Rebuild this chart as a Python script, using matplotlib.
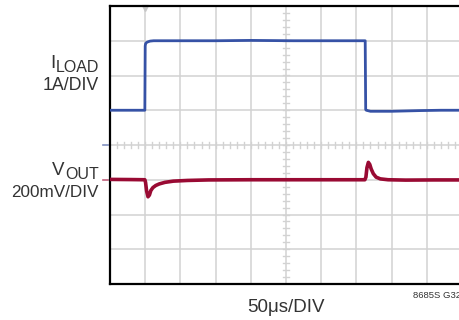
import numpy as np
import matplotlib
matplotlib.use("Agg")
import matplotlib.pyplot as plt
import matplotlib.transforms as mtransforms

plt.rcParams["font.family"] = ["Liberation Sans Narrow", "Liberation Sans", "DejaVu Sans"]

# ── scope settings ─────────────────────────────
US_PER_DIV = 50.0      # time base
A_PER_DIV = 1.0        # I_LOAD scale
MV_PER_DIV = 200.0     # V_OUT scale
ILOAD_ZERO_DIV = 4.0   # ground marker of channel 1
VOUT_ZERO_DIV = 3.0    # ground marker of channel 2 (AC coupled)

# ── I_LOAD trace (time in µs, current in A) ────
iload_t = [0, 49.5, 50.0, 50.6, 52, 54, 57, 62, 90, 150, 200, 260, 300,
           362.5, 363.2, 364, 366, 370, 380, 400, 420, 440, 470, 500]
iload_a = [1.00, 1.00, 2.85, 2.92, 2.95, 2.97, 2.99, 3.00, 3.00, 3.00, 3.01, 3.00, 3.00,
           3.00, 1.02, 1.00, 0.99, 0.97, 0.97, 0.97, 0.98, 0.99, 1.00, 1.00]

# ── V_OUT trace (time in µs, deviation in mV) ──
vout_t = [0, 30, 49.5, 50.5, 52, 54, 56, 58, 61, 65, 70, 78, 90, 110, 140, 200,
          300, 362, 363.5, 365, 367, 369, 371, 374, 378, 384, 395, 420, 460, 500]
vout_mv = [2, 1, 0, -15, -65, -98, -88, -62, -45, -33, -24, -15, -8, -4, -1, 0,
           0, 0, 15, 70, 100, 88, 62, 35, 15, 5, 0, -2, -1, -1]

# convert to screen divisions
x_il = np.array(iload_t) / US_PER_DIV
y_il = ILOAD_ZERO_DIV + np.array(iload_a) / A_PER_DIV
x_vo = np.array(vout_t) / US_PER_DIV
y_vo = VOUT_ZERO_DIV + np.array(vout_mv) / MV_PER_DIV

W, H = 460, 320
fig = plt.figure(figsize=(W / 100, H / 100), dpi=100)
ax = fig.add_axes([110 / W, 36 / H, 352 / W, 278 / H])
ax.set_xlim(0, 10)
ax.set_ylim(0, 8)

GRID = "#d2d2d2"
for xv in range(1, 10):
    ax.axvline(xv, color=GRID, lw=1.1, zorder=1)
for yv in range(1, 8):
    ax.axhline(yv, color=GRID, lw=1.1, zorder=1)

# minor ticks on the centre cross
for xv in np.arange(0.2, 10, 0.2):
    ax.plot([xv, xv], [4 - 0.09, 4 + 0.09], color=GRID, lw=1.0, zorder=1)
for yv in np.arange(0.2, 8, 0.2):
    ax.plot([5 - 0.09, 5 + 0.09], [yv, yv], color=GRID, lw=1.0, zorder=1)

ax.plot(x_il, y_il, color="#3652a6", lw=2.0, zorder=3, solid_joinstyle="round")
ax.plot(x_vo, y_vo, color="#990a33", lw=2.6, zorder=3, solid_joinstyle="round")

# trigger marker and channel ground markers
ax.plot([1.0], [7.93], marker="v", ms=4, color="#c8c8c8", clip_on=False, zorder=2)
trans = mtransforms.blended_transform_factory(fig.transFigure, ax.transData)
ax.plot([103 / W, 108 / W], [ILOAD_ZERO_DIV] * 2, color="#8090c0", lw=1.2,
        transform=trans, clip_on=False)
ax.plot([103 / W, 108 / W], [VOUT_ZERO_DIV] * 2, color="#c0607c", lw=1.2,
        transform=trans, clip_on=False)

ax.set_xticks([])
ax.set_yticks([])
for side in ["left", "bottom", "top", "right"]:
    ax.spines[side].set_color("black")
    ax.spines[side].set_linewidth(1.6)

TXT = "#333333"
def fx(px):
    return px / W
def fy(py):
    return 1 - py / H

t_load = fig.text(fx(99), fy(72), "LOAD", ha="right", va="baseline", fontsize=11.5, color=TXT)
fig.text(fx(99), fy(90), "1A/DIV", ha="right", va="baseline", fontsize=12.8, color=TXT)
ax.annotate("I", xy=(0, 0), xycoords=t_load, xytext=(-0.3, 2.5), textcoords="offset points",
            ha="right", va="bottom", fontsize=13.5, color=TXT)

t_out = fig.text(fx(99), fy(179), "OUT", ha="right", va="baseline", fontsize=11.5, color=TXT)
fig.text(fx(99), fy(197), "200mV/DIV", ha="right", va="baseline", fontsize=12.3, color=TXT)
ax.annotate("V", xy=(0, 0), xycoords=t_out, xytext=(-0.3, 2.5), textcoords="offset points",
            ha="right", va="bottom", fontsize=13.5, color=TXT)

fig.text(fx(286), fy(312), "50\u03bcs/DIV", ha="center", va="baseline", fontsize=13.5, color=TXT)
fig.text(fx(413), fy(298), "8685S G32", ha="left", va="baseline", fontsize=6.8, color=TXT)

fig.savefig("out.png", dpi=100)
